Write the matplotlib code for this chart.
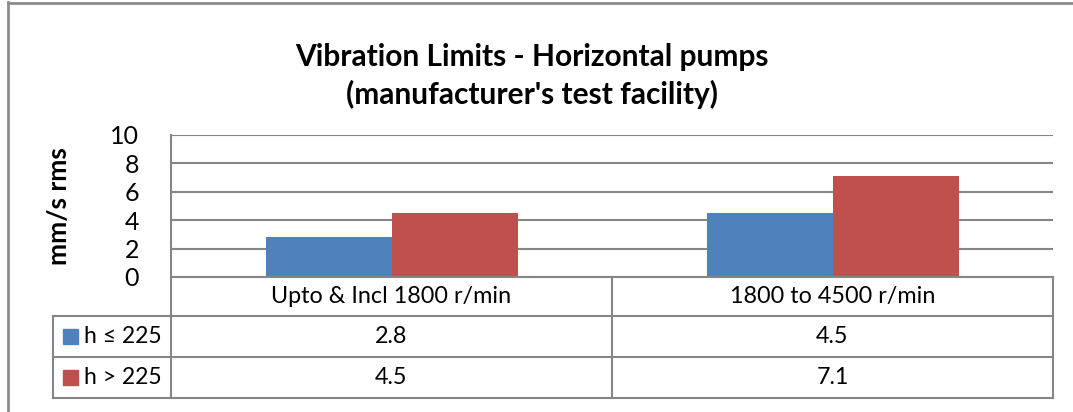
import matplotlib
matplotlib.use("Agg")
import matplotlib.pyplot as plt
from matplotlib.patches import Rectangle
from matplotlib.lines import Line2D
import numpy as np

categories = ["Upto & Incl 1800 r/min", "1800 to 4500 r/min"]
series_names = ["h \u2264 225", "h > 225"]
series_values = [[2.8, 4.5], [4.5, 7.1]]
series_colors = ["#4F81BD", "#C0504D"]
yticks = [0, 2, 4, 6, 8, 10]
title = "Vibration Limits - Horizontal pumps\n(manufacturer's test facility)"
ylabel = "mm/s rms"

W, H = 1073, 412
fig = plt.figure(figsize=(W / 100, H / 100), dpi=100)
plt.rcParams['font.family'] = ['Lato', 'DejaVu Sans']

def fx(x):
    return x / W

def fy(y):
    return 1 - y / H

GRID = "#868686"

# Plot area in pixels
L, R, T, B = 171, 1053, 135, 277
ax = fig.add_axes([fx(L), fy(B), fx(R - L), (B - T) / H])
ax.set_xlim(-0.5, len(categories) - 0.5)
ax.set_ylim(0, 10)
ax.set_yticks(yticks)
ax.set_yticklabels([str(t) for t in yticks], fontsize=18)
ax.set_xticks([])
ax.tick_params(axis='y', length=0, pad=23)
for s in ["top", "right", "bottom"]:
    ax.spines[s].set_visible(False)
ax.spines["left"].set_color(GRID)
ax.spines["left"].set_linewidth(1.5)
ax.yaxis.grid(True, color=GRID, linewidth=1.5)
ax.set_axisbelow(True)

n = len(series_values)
bw = 1 / (n + 1.5)
x = np.arange(len(categories))
for i, (vals, col) in enumerate(zip(series_values, series_colors)):
    ax.bar(x + (i - (n - 1) / 2) * bw, vals, width=bw, color=col, zorder=3)

fig.text(fx(59), fy(206), ylabel, rotation=90, ha="center", va="center",
         fontsize=19, fontweight="bold")

# Title
fig.text(fx(532), fy(76), title, ha="center", va="center", fontsize=21.5,
         fontweight="bold", linespacing=1.38)

# Outer chart border
fig.add_artist(Line2D([fx(8), fx(8)], [fy(2), 0], color="#8C8C8C", lw=2))
fig.add_artist(Line2D([fx(8), 1], [fy(2.5), fy(2.5)], color="#8C8C8C", lw=2))

# Data table
rows_y = [277, 316, 357, 398]
col_x = [L + (R - L) * j / len(categories) for j in range(len(categories) + 1)]
lw = 1.5
def hline(x0, x1, y):
    fig.add_artist(Line2D([fx(x0), fx(x1)], [fy(y), fy(y)], color=GRID, lw=lw))
def vline(x, y0, y1):
    fig.add_artist(Line2D([fx(x), fx(x)], [fy(y0), fy(y1)], color=GRID, lw=lw))

LEG_L = 53
hline(L, R, rows_y[0])
for y in rows_y[1:]:
    hline(LEG_L, R, y)
for xx in col_x:
    vline(xx, rows_y[0], rows_y[-1])
vline(LEG_L, rows_y[1], rows_y[-1])

for j, cat in enumerate(categories):
    cx = (col_x[j] + col_x[j + 1]) / 2
    fig.text(fx(cx), fy((rows_y[0] + rows_y[1]) / 2), cat, ha="center",
             va="center", fontsize=16.8)
    for i, vals in enumerate(series_values):
        cy = (rows_y[i + 1] + rows_y[i + 2]) / 2
        fig.text(fx(cx), fy(cy), f"{vals[j]:g}", ha="center", va="center",
                 fontsize=16.8)

for i, (name, col) in enumerate(zip(series_names, series_colors)):
    cy = (rows_y[i + 1] + rows_y[i + 2]) / 2
    fig.add_artist(Rectangle((fx(63), fy(cy + 7.5)), fx(15), 15 / H,
                             color=col, transform=fig.transFigure))
    fig.text(fx(84), fy(cy), name, ha="left", va="center", fontsize=16.5,
             family=['Lato', 'DejaVu Sans'])

fig.savefig("out.png", dpi=100)
